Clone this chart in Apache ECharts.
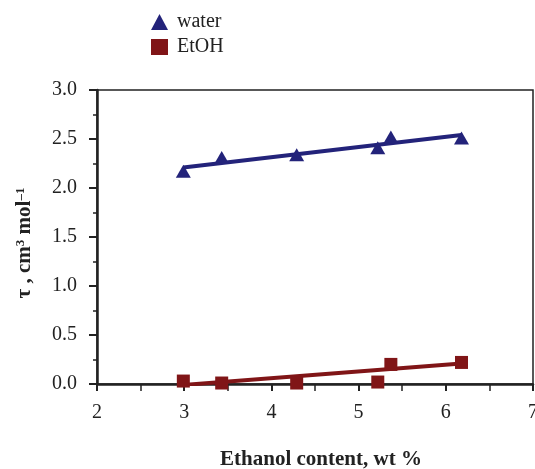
<!DOCTYPE html>
<html>
<head>
<meta charset="utf-8">
<script src="https://cdn.jsdelivr.net/npm/echarts@6/dist/echarts.min.js"></script>
<style>html,body{margin:0;padding:0;background:#fff}#c{width:535px;height:469px}</style>
</head>
<body>
<div id="c"></div>
<script>
const waterX = [2.99, 3.43, 4.29, 5.22, 5.37, 6.18];
const waterY = [2.17, 2.31, 2.34, 2.41, 2.52, 2.51];
const etohX = [2.99, 3.43, 4.29, 5.22, 5.37, 6.18];
const etohY = [0.03, 0.01, 0.01, 0.02, 0.20, 0.22];
const waterFitX = [2.99, 6.18];
const waterFitY = [2.21, 2.54];
const etohFitX = [2.99, 6.18];
const etohFitY = [-0.01, 0.21];

const font = 'Liberation Serif';
const waterColor = '#23237a';
const etohColor = '#801517';
const zip = (xs, ys) => xs.map((x, i) => [x, ys[i]]);

const chart = echarts.init(document.getElementById('c'));
chart.setOption({
  animation: false,
  grid: {left: 97, top: 90, right: 2, bottom: 85, containLabel: false, outerBoundsMode: 'none',
    show: true, borderColor: '#222', borderWidth: 1.5},
  legend: {
    orient: 'vertical', left: 146, top: 7, itemGap: 5, itemWidth: 17, itemHeight: 16,
    data: ['water', 'EtOH'],
    textStyle: {fontFamily: font, fontSize: 20, color: '#222', padding: [0, 0, 0, 4]}
  },
  xAxis: {
    type: 'value', min: 2, max: 7, interval: 1,
    name: 'Ethanol content, wt %', nameLocation: 'middle', nameGap: 65,
    nameTextStyle: {fontFamily: font, fontSize: 21, fontWeight: 'bold', color: '#222', padding: [0, 0, 0, 12]},
    axisLine: {onZero: false, lineStyle: {color: '#222', width: 2.5}},
    axisTick: {show: true, inside: false, length: 7, lineStyle: {width: 2, color: '#222'}},
    minorTick: {show: true, splitNumber: 2, length: 7, lineStyle: {width: 1.5, color: '#222'}},
    axisLabel: {fontFamily: font, fontSize: 20, color: '#222', margin: 19},
    splitLine: {show: false}
  },
  yAxis: {
    type: 'value', min: 0, max: 3, interval: 0.5,
    name: 'τ , cm{sup|3} mol{sup|–1}', nameLocation: 'middle', nameGap: 61, nameRotate: 90,
    nameMoveOverlap: false,
    nameTextStyle: {fontFamily: font, fontSize: 21, fontWeight: 'bold', color: '#222', padding: [0, 12, 0, 0],
      rich: {sup: {fontFamily: font, fontSize: 13, fontWeight: 'bold', color: '#222', verticalAlign: 'top', padding: [0, 0, 9, 0]}}},
    axisLine: {show: true, onZero: false, lineStyle: {color: '#222', width: 2.5}},
    axisTick: {show: true, inside: false, length: 8, lineStyle: {width: 2, color: '#222'}},
    minorTick: {show: true, splitNumber: 2, length: 4, lineStyle: {width: 1.5, color: '#222'}},
    axisLabel: {fontFamily: font, fontSize: 20, color: '#222', margin: 20, formatter: v => v.toFixed(1)},
    splitLine: {show: false}
  },
  series: [
    {name: 'waterFit', type: 'line', data: zip(waterFitX, waterFitY), showSymbol: false, symbol: 'none',
      lineStyle: {color: waterColor, width: 4}, z: 1},
    {name: 'etohFit', type: 'line', data: zip(etohFitX, etohFitY), showSymbol: false, symbol: 'none',
      lineStyle: {color: etohColor, width: 4}, z: 1},
    {name: 'water', type: 'scatter', symbol: 'triangle', symbolSize: [15, 13], data: zip(waterX, waterY),
      itemStyle: {color: waterColor, opacity: 1}, z: 3},
    {name: 'EtOH', type: 'scatter', symbol: 'rect', symbolSize: 13, data: zip(etohX, etohY),
      itemStyle: {color: etohColor, opacity: 1}, z: 3}
  ]
});
</script>
</body>
</html>
